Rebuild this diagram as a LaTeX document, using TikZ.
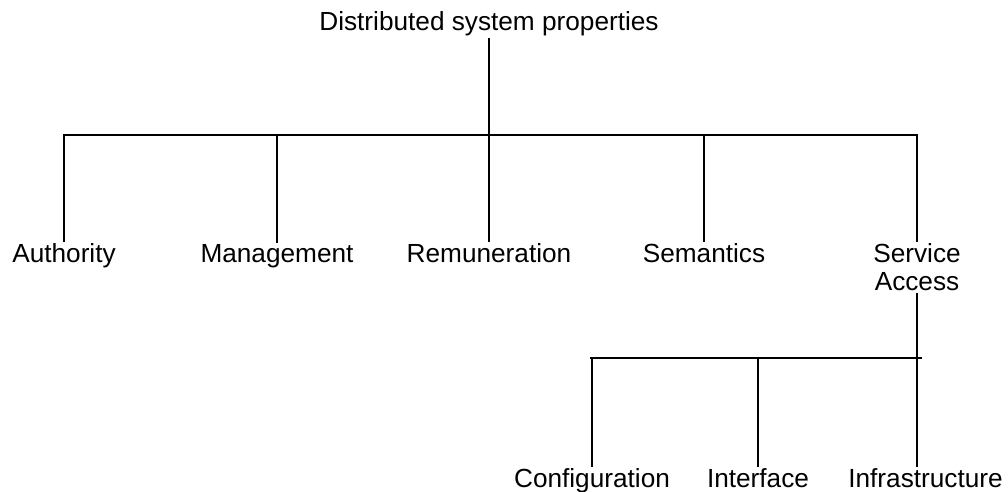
\documentclass[tikz,border=0pt]{standalone}
\usepackage{fontspec}
\setmainfont{Liberation Sans}
\begin{document}
\begin{tikzpicture}[x=1pt,y=-1pt,
  lbl/.style={inner sep=0pt,anchor=base,font=\fontsize{26.2}{28.5}\selectfont},
  link/.style={line width=1.8pt,line cap=rect},
  drop/.style={link,shorten >=2pt}]
\useasboundingbox (0,0) rectangle (1008,491);

% labels
\node[lbl] (root) at (489,30.5) {Distributed system properties};
\node[lbl] (auth) at (64,262) {Authority};
\node[lbl] (mgmt) at (277,262) {Management};
\node[lbl] (remu) at (489,262) {Remuneration};
\node[lbl] (sema) at (704,262) {Semantics};
\node[lbl,align=center,anchor=north] (serv) at (917,243.3) {Service\\Access};
\node[lbl] (conf) at (592,487) {Configuration};
\node[lbl] (intf) at (758,487) {Interface};
\node[lbl] (infr) at (925.5,487) {Infrastructure};

% bus lines
\coordinate (busL) at (64,135);
\coordinate (busR) at (917,135);
\coordinate (subL) at (591,358);
\coordinate (subR) at (921,358);

% first level
\draw[link,shorten <=2.5pt] (root.south) -- (root.south |- busL);
\draw[link] (busL) -- (busR);
\draw[drop] (auth.north |- busL) -- (auth.north);
\draw[drop] (mgmt.north |- busL) -- (mgmt.north);
\draw[drop] (remu.north |- busL) -- (remu.north);
\draw[drop] (sema.north |- busL) -- (sema.north);
\draw[drop] (serv.north |- busL) -- (serv.north);

% second level
\draw[link] (subL) -- (subR);
\draw[drop,shorten <=2.5pt] (serv.south) -- (serv.south |- infr.north);
\draw[drop] (conf.north |- subL) -- (conf.north);
\draw[drop] (intf.north |- subL) -- (intf.north);
\end{tikzpicture}
\end{document}
